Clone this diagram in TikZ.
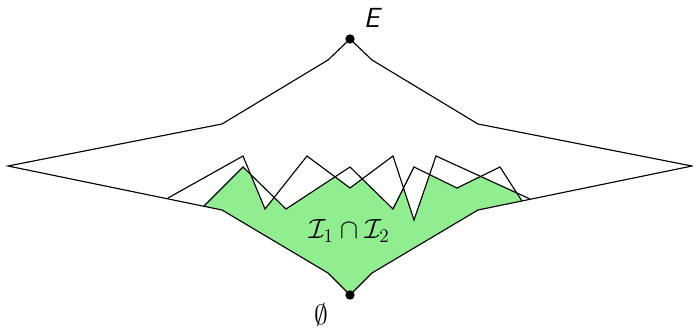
\documentclass[tikz,border=0pt]{standalone}
\usepackage{amsmath,amssymb}
\definecolor{igreen}{RGB}{144,238,144}
\begin{document}
\begin{tikzpicture}[x=0.75pt,y=-0.75pt,line width=0.85pt,line join=miter,
  dot/.style={circle,fill=black,inner sep=0pt,minimum size=7pt},
  lbl/.style={inner sep=0pt,font=\huge}]
\useasboundingbox (0,0) rectangle (693,328);
% outer lattice outline
\coordinate (E) at (350,39);
\coordinate (B) at (350,295);
\coordinate (L) at (8,166);
\coordinate (R) at (692,166);
\coordinate (ul1) at (328,60);
\coordinate (ul2) at (222,124);
\coordinate (ur1) at (372,60);
\coordinate (ur2) at (478,124);
\coordinate (bl1) at (222,210);
\coordinate (bl2) at (328,273);
\coordinate (br1) at (478,210);
\coordinate (br2) at (372,273);
% intersection fill
\begin{scope}
  \clip (168,198) -- (243,156) -- (265,209) -- (307,156) -- (350,188) -- (393,156) -- (414,220) -- (436,156) -- (530,199)
        -- (br1) -- (br2) -- (B) -- (bl2) -- (bl1) -- cycle;
  \fill[igreen] (204,206) -- (243,167) -- (286,209) -- (350,167) -- (393,209) -- (414,167) -- (457,188) -- (500,167) -- (522,201)
        -- (br1) -- (br2) -- (B) -- (bl2) -- (bl1) -- cycle;
\end{scope}
% outer outline
\draw (E) -- (ur1) -- (ur2) -- (R) -- (br1) -- (br2) -- (B) -- (bl2) -- (bl1) -- (L) -- (ul2) -- (ul1) -- cycle;
% zigzag upper boundaries of I1 and I2
\draw (168,198) -- (243,156) -- (265,209) -- (307,156) -- (350,188) -- (393,156) -- (414,220) -- (436,156) -- (530,199);
\draw (204,206) -- (243,167) -- (286,209) -- (350,167) -- (393,209) -- (414,167) -- (457,188) -- (500,167) -- (522,201);
% dots and labels
\node[dot] (top) at (E) {};
\node[dot] (bot) at (B) {};
\node[lbl] (Elab) at (373,18) {\textsf{\textit{E}}};
\node[lbl] (emptylab) at (321,315) {$\emptyset$};
\node[lbl] (caplab) at (349,231) {$\mathcal{I}_1\cap\mathcal{I}_2$};
\end{tikzpicture}
\end{document}
